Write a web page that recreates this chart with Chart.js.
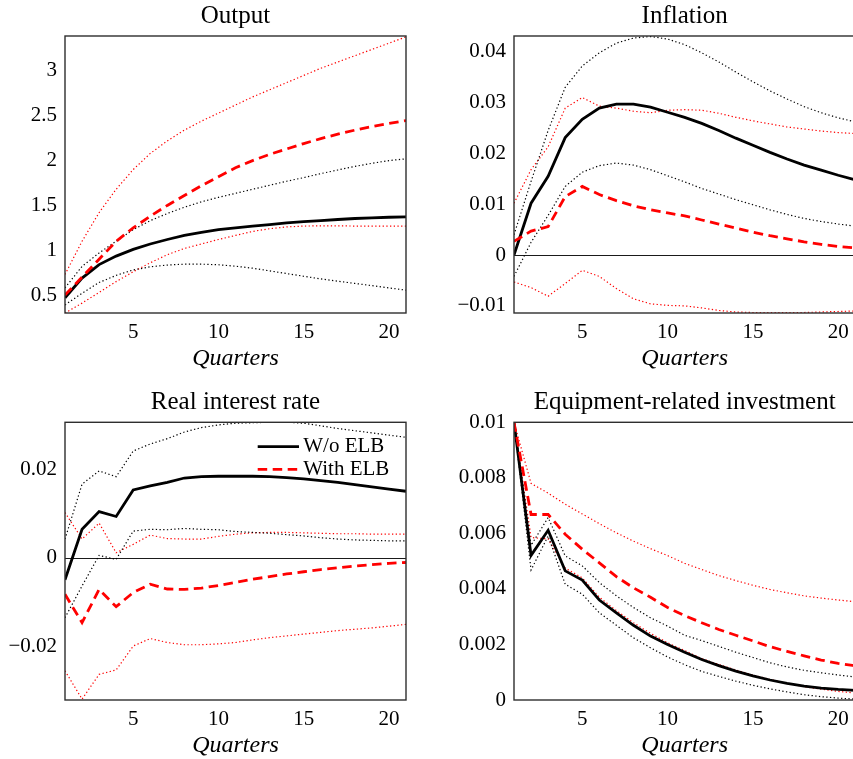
<!DOCTYPE html>
<html>
<head>
<meta charset="utf-8">
<title>Impulse responses with and without the ELB</title>
<script src="https://cdn.jsdelivr.net/npm/chart.js@4/dist/chart.umd.min.js"></script>
<style>
  html, body { margin: 0; padding: 0; background: #ffffff; width: 853px; height: 759px; overflow: hidden; }
  canvas { position: absolute; display: block; }
</style>
</head>
<body>
<canvas id="cOutput" width="420" height="375" style="left:0px;top:0px"></canvas>
<canvas id="cInflation" width="440" height="375" style="left:426px;top:0px"></canvas>
<canvas id="cRate" width="420" height="382" style="left:0px;top:380px"></canvas>
<canvas id="cInvest" width="440" height="382" style="left:426px;top:380px"></canvas>
<script>
// Horizon (quarters after the shock) and the x-axis tick labels
const quarters = [1, 2, 3, 4, 5, 6, 7, 8, 9, 10, 11, 12, 13, 14, 15, 16, 17, 18, 19, 20, 21];
const quarterTicks = [5, 10, 15, 20];

// Output
const outputNoElb   = [0.47, 0.69, 0.84, 0.935, 1.01, 1.07, 1.12, 1.165, 1.20, 1.23, 1.25, 1.268, 1.287, 1.306, 1.32, 1.331, 1.343, 1.354, 1.361, 1.368, 1.372];
const outputNoElbHi = [0.58, 0.82, 0.97, 1.10, 1.23, 1.33, 1.41, 1.48, 1.54, 1.59, 1.635, 1.68, 1.725, 1.77, 1.81, 1.855, 1.895, 1.935, 1.97, 2.0, 2.02];
const outputNoElbLo = [0.39, 0.52, 0.64, 0.72, 0.78, 0.815, 0.835, 0.845, 0.845, 0.838, 0.822, 0.80, 0.77, 0.74, 0.71, 0.68, 0.655, 0.63, 0.605, 0.58, 0.555];
const outputElb     = [0.50, 0.70, 0.90, 1.10, 1.25, 1.38, 1.50, 1.61, 1.72, 1.82, 1.92, 2.00, 2.07, 2.13, 2.19, 2.245, 2.295, 2.34, 2.38, 2.415, 2.447];
const outputElbHi   = [0.73, 1.10, 1.42, 1.68, 1.90, 2.08, 2.22, 2.34, 2.44, 2.53, 2.62, 2.71, 2.79, 2.87, 2.95, 3.03, 3.10, 3.17, 3.24, 3.31, 3.38];
const outputElbLo   = [0.30, 0.41, 0.53, 0.65, 0.76, 0.86, 0.95, 1.02, 1.07, 1.12, 1.165, 1.21, 1.24, 1.26, 1.27, 1.272, 1.272, 1.27, 1.27, 1.27, 1.268];
const outputTicks   = [0.5, 1, 1.5, 2, 2.5, 3];

// Inflation
const inflNoElb   = [0.0, 0.0102, 0.0155, 0.0231, 0.0267, 0.0289, 0.0297, 0.0297, 0.0291, 0.0281, 0.0271, 0.0259, 0.0245, 0.0230, 0.0216, 0.0202, 0.0189, 0.0177, 0.0167, 0.0157, 0.0148];
const inflNoElbHi = [0.004, 0.0145, 0.0245, 0.0330, 0.0372, 0.0398, 0.0417, 0.0427, 0.0430, 0.0425, 0.0414, 0.0398, 0.0380, 0.0360, 0.0341, 0.0323, 0.0307, 0.0292, 0.0280, 0.0270, 0.0262];
const inflNoElbLo = [-0.0042, 0.0025, 0.0078, 0.0135, 0.0163, 0.0176, 0.0181, 0.0177, 0.0168, 0.0156, 0.0144, 0.0131, 0.0120, 0.0109, 0.0099, 0.0089, 0.0080, 0.0072, 0.0066, 0.0061, 0.0057];
const inflElb     = [0.0027, 0.0047, 0.0056, 0.0115, 0.0135, 0.0119, 0.0107, 0.0097, 0.0089, 0.0083, 0.0077, 0.0069, 0.0061, 0.0053, 0.0045, 0.0038, 0.0032, 0.0026, 0.0021, 0.0017, 0.0014];
const inflElbHi   = [0.0102, 0.0168, 0.0213, 0.0289, 0.0310, 0.0293, 0.0289, 0.0283, 0.0280, 0.0285, 0.0286, 0.0285, 0.0279, 0.0271, 0.0264, 0.0258, 0.0252, 0.0248, 0.0244, 0.0241, 0.0239];
const inflElbLo   = [-0.0053, -0.0064, -0.0081, -0.0056, -0.0030, -0.0042, -0.0066, -0.0086, -0.0096, -0.0099, -0.0100, -0.0104, -0.0109, -0.0112, -0.0113, -0.0113, -0.0113, -0.0113, -0.0112, -0.0111, -0.0110];
const inflTicks   = [-0.01, 0, 0.01, 0.02, 0.03, 0.04];

// Real interest rate
const rateNoElb   = [-0.0050, 0.0064, 0.0104, 0.0093, 0.0153, 0.0162, 0.0170, 0.0180, 0.0183, 0.0184, 0.0184, 0.0184, 0.0183, 0.0181, 0.0178, 0.0174, 0.0170, 0.0165, 0.0160, 0.0155, 0.0150];
const rateNoElbHi = [0.0042, 0.0166, 0.0196, 0.0183, 0.0241, 0.0257, 0.0269, 0.0284, 0.0294, 0.0300, 0.0304, 0.0305, 0.0306, 0.0306, 0.0304, 0.0298, 0.0292, 0.0287, 0.0282, 0.0277, 0.0272];
const rateNoElbLo = [-0.0136, -0.0064, 0.0005, -0.0004, 0.0060, 0.0064, 0.0063, 0.0066, 0.0064, 0.0063, 0.0059, 0.0057, 0.0055, 0.0052, 0.0049, 0.0045, 0.0042, 0.0040, 0.0039, 0.0038, 0.0038];
const rateElb     = [-0.0083, -0.0147, -0.0072, -0.0111, -0.0079, -0.0060, -0.0071, -0.0072, -0.0069, -0.0063, -0.0056, -0.0049, -0.0043, -0.0037, -0.0032, -0.0027, -0.0023, -0.0019, -0.0016, -0.0013, -0.0011];
const rateElbHi   = [0.0102, 0.0042, 0.0078, 0.0011, 0.0030, 0.0051, 0.0043, 0.0042, 0.0042, 0.0048, 0.0053, 0.0056, 0.0057, 0.0057, 0.0056, 0.0055, 0.0054, 0.0054, 0.0053, 0.0053, 0.0053];
const rateElbLo   = [-0.0256, -0.0320, -0.0264, -0.0254, -0.0200, -0.0183, -0.0192, -0.0197, -0.0197, -0.0195, -0.0192, -0.0186, -0.0181, -0.0177, -0.0173, -0.0169, -0.0165, -0.0162, -0.0159, -0.0155, -0.0151];
const rateTicks   = [-0.02, 0, 0.02];

// Equipment-related investment
const investNoElb   = [0.0100, 0.00521, 0.00611, 0.00465, 0.00432, 0.00360, 0.00314, 0.00269, 0.00230, 0.00200, 0.00172, 0.00146, 0.00124, 0.00104, 0.00087, 0.00072, 0.00060, 0.00050, 0.00043, 0.00038, 0.00035];
const investNoElbHi = [0.0100, 0.00557, 0.00657, 0.00519, 0.00483, 0.00423, 0.00375, 0.00333, 0.00296, 0.00266, 0.00233, 0.00214, 0.00193, 0.00172, 0.00153, 0.00134, 0.00119, 0.00107, 0.00098, 0.00090, 0.00083];
const investNoElbLo = [0.0100, 0.00468, 0.00591, 0.00417, 0.00381, 0.00314, 0.00269, 0.00224, 0.00188, 0.00155, 0.00127, 0.00103, 0.00085, 0.00068, 0.00053, 0.00040, 0.00029, 0.00019, 0.00012, 0.00007, 0.00003];
const investElb     = [0.0100, 0.00668, 0.00668, 0.00597, 0.00543, 0.00494, 0.00444, 0.00404, 0.00370, 0.00333, 0.00304, 0.00278, 0.00254, 0.00233, 0.00213, 0.00192, 0.00175, 0.00159, 0.00144, 0.00132, 0.00123];
const investElbHi   = [0.0100, 0.00780, 0.00745, 0.00705, 0.00670, 0.00635, 0.00602, 0.00572, 0.00545, 0.00520, 0.00492, 0.00470, 0.00448, 0.00430, 0.00413, 0.00398, 0.00386, 0.00375, 0.00367, 0.00360, 0.00354];
const investElbLo   = [0.0100, 0.00585, 0.00580, 0.00475, 0.00440, 0.00370, 0.00322, 0.00278, 0.00240, 0.00206, 0.00178, 0.00149, 0.00128, 0.00108, 0.00090, 0.00074, 0.00060, 0.00048, 0.00039, 0.00031, 0.00025];
const investTicks   = [0, 0.002, 0.004, 0.006, 0.008, 0.01];

// ---------------------------------------------------------------
Chart.defaults.font.family = '"Liberation Serif", "Times New Roman", serif';
Chart.defaults.color = '#000000';

const RED = '#ff0000';
const BLACK = '#000000';
const DOT = [1.3, 2.4];
const DASH = [9.5, 5.5];

const pts = (vals) => vals.map((v, i) => ({ x: quarters[i], y: v }));

function buildDatasets(s) {
  // First dataset is painted last (on top)
  return [
    { label: 'With ELB', data: pts(s.elb), borderColor: RED, borderWidth: 2.8, borderDash: DASH },
    { label: 'W/o ELB', data: pts(s.noElb), borderColor: BLACK, borderWidth: 2.8 },
    { label: 'W/o ELB upper', data: pts(s.noElbHi), borderColor: BLACK, borderWidth: 1.2, borderDash: DOT },
    { label: 'W/o ELB lower', data: pts(s.noElbLo), borderColor: BLACK, borderWidth: 1.2, borderDash: DOT },
    { label: 'With ELB upper', data: pts(s.elbHi), borderColor: RED, borderWidth: 1.2, borderDash: DOT },
    { label: 'With ELB lower', data: pts(s.elbLo), borderColor: RED, borderWidth: 1.2, borderDash: DOT }
  ];
}

// Box frame around the plot area and an optional zero line
const framePlugin = {
  id: 'boxFrame',
  beforeDatasetsDraw(chart, args, opts) {
    if (!opts.zero) return;
    const { ctx, chartArea } = chart;
    const y = Math.round(chart.scales.y.getPixelForValue(0)) + 0.5;
    ctx.save();
    ctx.strokeStyle = '#1a1a1a';
    ctx.lineWidth = 1.2;
    ctx.beginPath();
    ctx.moveTo(chartArea.left, y);
    ctx.lineTo(chartArea.right, y);
    ctx.stroke();
    ctx.restore();
  },
  afterDraw(chart) {
    const { ctx, chartArea } = chart;
    ctx.save();
    ctx.strokeStyle = '#2e2e2e';
    ctx.lineWidth = 1.4;
    ctx.strokeRect(chartArea.left, chartArea.top, chartArea.right - chartArea.left, chartArea.bottom - chartArea.top);
    ctx.restore();
  }
};

// Key drawn inside the top-right corner of the plot area
const keyPlugin = {
  id: 'cornerKey',
  afterDatasetsDraw(chart, args, opts) {
    if (!opts.show) return;
    const { ctx, chartArea } = chart;
    const entries = ['W/o ELB', 'With ELB'].map(l => chart.data.datasets.find(d => d.label === l));
    ctx.save();
    entries.forEach((ds, i) => {
      const y = chartArea.top + 24.4 + i * 22.6;
      const x0 = chartArea.right - 148.3;
      const x1 = chartArea.right - 107;
      ctx.strokeStyle = ds.borderColor;
      ctx.lineWidth = ds.borderWidth;
      ctx.setLineDash(ds.borderDash || []);
      ctx.beginPath();
      ctx.moveTo(x0, y);
      ctx.lineTo(x1, y);
      ctx.stroke();
      ctx.setLineDash([]);
      ctx.fillStyle = '#000000';
      ctx.font = '21px "Liberation Serif", serif';
      ctx.textAlign = 'left';
      ctx.textBaseline = 'middle';
      ctx.fillText(ds.label, x1 + 4.3, y);
    });
    ctx.restore();
  }
};

const fmt = (v) => String(v).replace('-', '\u2212');

function panel(id, cfg) {
  return new Chart(document.getElementById(id), {
    type: 'line',
    data: { datasets: buildDatasets(cfg.series) },
    options: {
      responsive: false,
      animation: false,
      devicePixelRatio: 1,
      elements: { point: { radius: 0 }, line: { tension: 0 } },
      layout: { padding: { left: 0, right: cfg.padRight, top: 0, bottom: 0 } },
      plugins: {
        legend: { display: false },
        tooltip: { enabled: false },
        title: {
          display: true, text: cfg.title, fullSize: false, color: '#000000',
          font: { size: 25, weight: 'normal', lineHeight: 1.2 },
          padding: { top: cfg.titleTop, bottom: cfg.titleBottom }
        },
        boxFrame: { zero: !!cfg.zero },
        cornerKey: { show: !!cfg.key }
      },
      scales: {
        x: {
          type: 'linear', min: 1, max: 21,
          grid: { display: false, drawTicks: false },
          border: { display: false },
          afterBuildTicks: (s) => { s.ticks = quarterTicks.map(v => ({ value: v })); },
          afterFit: (s) => { s.height = 62; },
          ticks: { padding: 7, font: { size: 21 }, color: '#000000', autoSkip: false, maxRotation: 0, callback: fmt },
          title: {
            display: true, text: 'Quarters', color: '#000000',
            font: { size: 24, style: 'italic', lineHeight: 1.2 },
            padding: { top: 0, bottom: 1.5 }
          }
        },
        y: {
          type: 'linear', min: cfg.yMin, max: cfg.yMax,
          grid: { display: false, drawTicks: false },
          border: { display: false },
          afterBuildTicks: (s) => { s.ticks = cfg.yTicks.map(v => ({ value: v })); },
          afterFit: (s) => { s.width = cfg.axisWidth; },
          ticks: { padding: 8, font: { size: 21 }, color: '#000000', autoSkip: false, callback: fmt }
        }
      }
    },
    plugins: [framePlugin, keyPlugin]
  });
}

panel('cOutput', {
  title: 'Output', titleTop: 1.5, titleBottom: 4.5, axisWidth: 65, padRight: 14,
  yMin: 0.30, yMax: 3.39, yTicks: outputTicks,
  series: { noElb: outputNoElb, noElbHi: outputNoElbHi, noElbLo: outputNoElbLo, elb: outputElb, elbHi: outputElbHi, elbLo: outputElbLo }
});

panel('cInflation', {
  title: 'Inflation', titleTop: 1.5, titleBottom: 4.5, axisWidth: 88, padRight: 10.7, zero: true,
  yMin: -0.0114, yMax: 0.0431, yTicks: inflTicks,
  series: { noElb: inflNoElb, noElbHi: inflNoElbHi, noElbLo: inflNoElbLo, elb: inflElb, elbHi: inflElbHi, elbLo: inflElbLo }
});

panel('cRate', {
  title: 'Real interest rate', titleTop: 7.5, titleBottom: 4.8, axisWidth: 65, padRight: 14, zero: true, key: true,
  yMin: -0.0322, yMax: 0.0306, yTicks: rateTicks,
  series: { noElb: rateNoElb, noElbHi: rateNoElbHi, noElbLo: rateNoElbLo, elb: rateElb, elbHi: rateElbHi, elbLo: rateElbLo }
});

panel('cInvest', {
  title: 'Equipment-related investment', titleTop: 7.5, titleBottom: 4.8, axisWidth: 88, padRight: 10.7,
  yMin: 0, yMax: 0.01, yTicks: investTicks,
  series: { noElb: investNoElb, noElbHi: investNoElbHi, noElbLo: investNoElbLo, elb: investElb, elbHi: investElbHi, elbLo: investElbLo }
});
</script>
</body>
</html>
